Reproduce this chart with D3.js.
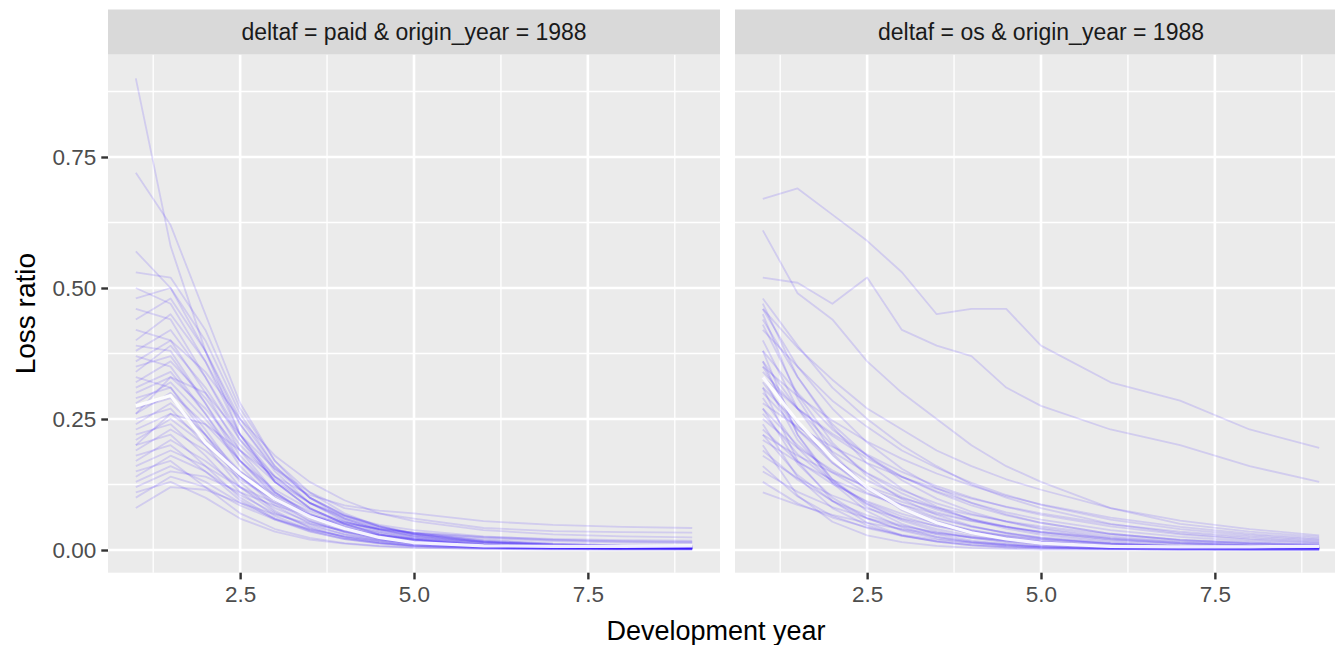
<!DOCTYPE html>
<html>
<head>
<meta charset="utf-8">
<script src="https://cdn.jsdelivr.net/npm/d3@7"></script>
<style>
  body { margin: 0; background: #fff; }
  svg { display: block; }
</style>
</head>
<body>
<div id="chart"></div>
<script>
// development years at which every simulated path is recorded
const devYears = [1, 1.5, 2, 2.5, 3, 3.5, 4, 4.5, 5, 6, 7, 8, 9];

// paid loss ratio paths (one row per simulation)
const paidSims = [
  [0.90, 0.58, 0.38, 0.22, 0.13, 0.08, 0.05, 0.03, 0.02, 0.01, 0.006, 0.004, 0.003],
  [0.72, 0.62, 0.45, 0.28, 0.17, 0.10, 0.06, 0.04, 0.025, 0.012, 0.007, 0.005, 0.004],
  [0.57, 0.50, 0.38, 0.24, 0.15, 0.09, 0.055, 0.035, 0.022, 0.010, 0.006, 0.004, 0.004],
  [0.53, 0.52, 0.42, 0.27, 0.17, 0.11, 0.07, 0.045, 0.03, 0.015, 0.009, 0.006, 0.005],
  [0.50, 0.47, 0.36, 0.22, 0.13, 0.08, 0.05, 0.03, 0.02, 0.009, 0.005, 0.004, 0.003],
  [0.48, 0.50, 0.40, 0.26, 0.16, 0.10, 0.065, 0.043, 0.03, 0.016, 0.010, 0.007, 0.006],
  [0.46, 0.44, 0.33, 0.21, 0.13, 0.08, 0.05, 0.032, 0.021, 0.010, 0.006, 0.004, 0.004],
  [0.44, 0.48, 0.38, 0.25, 0.16, 0.10, 0.066, 0.045, 0.031, 0.017, 0.011, 0.008, 0.007],
  [0.42, 0.40, 0.30, 0.19, 0.11, 0.065, 0.04, 0.025, 0.016, 0.008, 0.005, 0.004, 0.003],
  [0.40, 0.45, 0.36, 0.24, 0.155, 0.10, 0.067, 0.046, 0.032, 0.018, 0.012, 0.009, 0.008],
  [0.39, 0.38, 0.28, 0.17, 0.10, 0.06, 0.036, 0.022, 0.014, 0.007, 0.004, 0.003, 0.003],
  [0.38, 0.42, 0.33, 0.22, 0.14, 0.09, 0.058, 0.038, 0.026, 0.013, 0.008, 0.006, 0.005],
  [0.37, 0.35, 0.26, 0.16, 0.095, 0.056, 0.034, 0.021, 0.013, 0.006, 0.004, 0.003, 0.003],
  [0.36, 0.40, 0.34, 0.25, 0.18, 0.13, 0.095, 0.07, 0.055, 0.038, 0.030, 0.026, 0.024],
  [0.35, 0.37, 0.28, 0.18, 0.11, 0.068, 0.042, 0.027, 0.018, 0.009, 0.006, 0.004, 0.004],
  [0.34, 0.39, 0.31, 0.21, 0.14, 0.09, 0.06, 0.04, 0.028, 0.015, 0.009, 0.007, 0.006],
  [0.33, 0.31, 0.22, 0.13, 0.075, 0.043, 0.025, 0.015, 0.009, 0.004, 0.003, 0.002, 0.002],
  [0.32, 0.36, 0.29, 0.20, 0.135, 0.09, 0.062, 0.044, 0.032, 0.019, 0.012, 0.009, 0.008],
  [0.31, 0.34, 0.26, 0.17, 0.105, 0.065, 0.04, 0.025, 0.016, 0.008, 0.005, 0.004, 0.003],
  [0.30, 0.33, 0.27, 0.19, 0.13, 0.09, 0.065, 0.048, 0.038, 0.026, 0.020, 0.017, 0.016],
  [0.29, 0.31, 0.23, 0.14, 0.085, 0.05, 0.03, 0.018, 0.011, 0.005, 0.003, 0.002, 0.002],
  [0.28, 0.32, 0.25, 0.17, 0.11, 0.07, 0.045, 0.029, 0.019, 0.009, 0.005, 0.004, 0.004],
  [0.27, 0.29, 0.22, 0.14, 0.09, 0.055, 0.034, 0.021, 0.013, 0.006, 0.004, 0.003, 0.003],
  [0.26, 0.30, 0.24, 0.17, 0.115, 0.078, 0.054, 0.038, 0.028, 0.016, 0.010, 0.008, 0.007],
  [0.26, 0.33, 0.30, 0.22, 0.155, 0.11, 0.08, 0.07, 0.06, 0.042, 0.036, 0.034, 0.033],
  [0.25, 0.27, 0.20, 0.12, 0.072, 0.042, 0.024, 0.014, 0.008, 0.004, 0.002, 0.002, 0.002],
  [0.24, 0.28, 0.22, 0.15, 0.10, 0.066, 0.044, 0.03, 0.021, 0.011, 0.007, 0.005, 0.004],
  [0.23, 0.26, 0.21, 0.15, 0.105, 0.074, 0.053, 0.04, 0.031, 0.022, 0.017, 0.014, 0.013],
  [0.22, 0.24, 0.18, 0.11, 0.065, 0.038, 0.022, 0.013, 0.008, 0.004, 0.002, 0.002, 0.002],
  [0.21, 0.25, 0.20, 0.14, 0.095, 0.063, 0.042, 0.028, 0.019, 0.009, 0.005, 0.004, 0.004],
  [0.20, 0.22, 0.16, 0.10, 0.06, 0.036, 0.021, 0.012, 0.007, 0.003, 0.002, 0.002, 0.002],
  [0.20, 0.26, 0.24, 0.19, 0.14, 0.105, 0.085, 0.075, 0.07, 0.055, 0.048, 0.044, 0.042],
  [0.19, 0.23, 0.19, 0.135, 0.095, 0.066, 0.047, 0.034, 0.025, 0.015, 0.010, 0.008, 0.007],
  [0.18, 0.20, 0.15, 0.095, 0.058, 0.035, 0.021, 0.013, 0.008, 0.004, 0.003, 0.002, 0.002],
  [0.17, 0.21, 0.17, 0.12, 0.08, 0.053, 0.035, 0.024, 0.016, 0.008, 0.005, 0.004, 0.003],
  [0.16, 0.19, 0.16, 0.12, 0.09, 0.068, 0.052, 0.041, 0.033, 0.024, 0.019, 0.016, 0.015],
  [0.15, 0.17, 0.12, 0.07, 0.04, 0.023, 0.013, 0.008, 0.005, 0.002, 0.002, 0.001, 0.001],
  [0.14, 0.18, 0.15, 0.105, 0.07, 0.046, 0.03, 0.02, 0.013, 0.006, 0.004, 0.003, 0.003],
  [0.13, 0.16, 0.13, 0.09, 0.06, 0.04, 0.026, 0.017, 0.011, 0.005, 0.003, 0.002, 0.002],
  [0.12, 0.15, 0.14, 0.11, 0.085, 0.065, 0.05, 0.04, 0.033, 0.025, 0.021, 0.019, 0.018],
  [0.11, 0.13, 0.10, 0.06, 0.035, 0.02, 0.012, 0.007, 0.004, 0.002, 0.001, 0.001, 0.001],
  [0.10, 0.14, 0.12, 0.085, 0.058, 0.039, 0.026, 0.018, 0.012, 0.006, 0.004, 0.003, 0.003],
  [0.08, 0.12, 0.115, 0.09, 0.068, 0.05, 0.037, 0.028, 0.022, 0.014, 0.010, 0.008, 0.007]
];
const paidMean = [0.275, 0.295, 0.205, 0.145, 0.097, 0.064, 0.041, 0.024, 0.014, 0.008, 0.007, 0.007, 0.008];

// outstanding loss ratio paths
const osSims = [
  [0.67, 0.69, 0.64, 0.59, 0.53, 0.45, 0.46, 0.46, 0.39, 0.32, 0.285, 0.23, 0.195],
  [0.52, 0.51, 0.47, 0.52, 0.42, 0.39, 0.37, 0.31, 0.275, 0.23, 0.20, 0.16, 0.13],
  [0.61, 0.49, 0.44, 0.36, 0.30, 0.25, 0.20, 0.16, 0.13, 0.08, 0.05, 0.035, 0.025],
  [0.48, 0.39, 0.31, 0.25, 0.20, 0.16, 0.125, 0.10, 0.08, 0.05, 0.032, 0.022, 0.016],
  [0.47, 0.33, 0.235, 0.165, 0.117, 0.083, 0.058, 0.041, 0.029, 0.015, 0.008, 0.006, 0.005],
  [0.46, 0.35, 0.27, 0.205, 0.155, 0.118, 0.09, 0.068, 0.052, 0.031, 0.019, 0.013, 0.010],
  [0.46, 0.386, 0.325, 0.27, 0.23, 0.19, 0.16, 0.135, 0.115, 0.08, 0.056, 0.04, 0.028],
  [0.45, 0.29, 0.185, 0.12, 0.076, 0.049, 0.031, 0.02, 0.013, 0.006, 0.004, 0.003, 0.003],
  [0.44, 0.33, 0.24, 0.18, 0.133, 0.098, 0.073, 0.054, 0.04, 0.022, 0.013, 0.009, 0.007],
  [0.43, 0.297, 0.205, 0.141, 0.097, 0.067, 0.046, 0.032, 0.022, 0.011, 0.006, 0.005, 0.004],
  [0.42, 0.35, 0.285, 0.235, 0.19, 0.157, 0.128, 0.105, 0.086, 0.058, 0.04, 0.028, 0.020],
  [0.40, 0.27, 0.18, 0.12, 0.081, 0.054, 0.036, 0.024, 0.016, 0.008, 0.005, 0.004, 0.004],
  [0.38, 0.30, 0.23, 0.18, 0.14, 0.11, 0.085, 0.066, 0.052, 0.031, 0.019, 0.013, 0.010],
  [0.38, 0.22, 0.128, 0.074, 0.043, 0.025, 0.015, 0.009, 0.005, 0.002, 0.002, 0.001, 0.001],
  [0.36, 0.22, 0.134, 0.082, 0.05, 0.03, 0.018, 0.011, 0.007, 0.003, 0.002, 0.002, 0.002],
  [0.36, 0.27, 0.20, 0.146, 0.108, 0.08, 0.059, 0.044, 0.032, 0.018, 0.011, 0.008, 0.006],
  [0.35, 0.24, 0.167, 0.115, 0.08, 0.055, 0.038, 0.026, 0.018, 0.009, 0.005, 0.004, 0.004],
  [0.35, 0.294, 0.247, 0.207, 0.174, 0.146, 0.123, 0.103, 0.087, 0.062, 0.044, 0.031, 0.022],
  [0.34, 0.27, 0.218, 0.175, 0.14, 0.112, 0.09, 0.072, 0.058, 0.038, 0.025, 0.017, 0.013],
  [0.33, 0.21, 0.135, 0.087, 0.056, 0.036, 0.023, 0.015, 0.010, 0.005, 0.003, 0.002, 0.002],
  [0.33, 0.27, 0.222, 0.182, 0.149, 0.122, 0.10, 0.082, 0.067, 0.045, 0.03, 0.02, 0.014],
  [0.32, 0.23, 0.166, 0.12, 0.086, 0.062, 0.045, 0.032, 0.023, 0.012, 0.007, 0.005, 0.004],
  [0.31, 0.17, 0.094, 0.052, 0.028, 0.016, 0.009, 0.005, 0.003, 0.002, 0.001, 0.001, 0.001],
  [0.31, 0.242, 0.188, 0.147, 0.114, 0.089, 0.069, 0.054, 0.042, 0.026, 0.016, 0.011, 0.009],
  [0.30, 0.23, 0.175, 0.133, 0.101, 0.077, 0.059, 0.045, 0.034, 0.020, 0.012, 0.008, 0.007],
  [0.29, 0.195, 0.13, 0.088, 0.059, 0.04, 0.027, 0.018, 0.012, 0.006, 0.004, 0.003, 0.003],
  [0.28, 0.235, 0.197, 0.166, 0.139, 0.117, 0.098, 0.083, 0.07, 0.049, 0.035, 0.025, 0.018],
  [0.27, 0.165, 0.10, 0.061, 0.037, 0.022, 0.014, 0.008, 0.005, 0.002, 0.002, 0.001, 0.001],
  [0.27, 0.20, 0.148, 0.109, 0.081, 0.06, 0.044, 0.033, 0.024, 0.013, 0.008, 0.006, 0.005],
  [0.26, 0.183, 0.13, 0.091, 0.064, 0.045, 0.032, 0.023, 0.016, 0.008, 0.005, 0.004, 0.004],
  [0.25, 0.195, 0.152, 0.118, 0.092, 0.072, 0.056, 0.044, 0.034, 0.021, 0.013, 0.009, 0.007],
  [0.24, 0.139, 0.08, 0.047, 0.027, 0.016, 0.009, 0.005, 0.003, 0.002, 0.001, 0.001, 0.001],
  [0.23, 0.17, 0.126, 0.093, 0.069, 0.051, 0.038, 0.028, 0.021, 0.012, 0.007, 0.005, 0.005],
  [0.22, 0.143, 0.093, 0.06, 0.039, 0.025, 0.016, 0.011, 0.007, 0.003, 0.002, 0.002, 0.002],
  [0.22, 0.18, 0.148, 0.121, 0.099, 0.081, 0.067, 0.055, 0.045, 0.03, 0.02, 0.014, 0.010],
  [0.21, 0.168, 0.134, 0.107, 0.086, 0.069, 0.055, 0.044, 0.035, 0.023, 0.015, 0.011, 0.009],
  [0.20, 0.104, 0.054, 0.028, 0.015, 0.008, 0.004, 0.002, 0.001, 0.001, 0.001, 0.001, 0.001],
  [0.19, 0.134, 0.094, 0.066, 0.047, 0.033, 0.023, 0.016, 0.011, 0.006, 0.004, 0.003, 0.003],
  [0.18, 0.137, 0.104, 0.079, 0.06, 0.046, 0.035, 0.027, 0.020, 0.012, 0.007, 0.005, 0.004],
  [0.16, 0.102, 0.065, 0.042, 0.027, 0.017, 0.011, 0.007, 0.005, 0.002, 0.001, 0.001, 0.001],
  [0.15, 0.111, 0.082, 0.061, 0.045, 0.033, 0.025, 0.018, 0.014, 0.008, 0.005, 0.004, 0.003],
  [0.13, 0.089, 0.062, 0.043, 0.029, 0.02, 0.014, 0.010, 0.007, 0.003, 0.002, 0.002, 0.002],
  [0.11, 0.086, 0.067, 0.052, 0.04, 0.031, 0.024, 0.019, 0.015, 0.009, 0.006, 0.004, 0.004]
];
const osMean = [0.33, 0.245, 0.175, 0.12, 0.08, 0.052, 0.033, 0.021, 0.013, 0.007, 0.006, 0.006, 0.007];

const panelTitles = ["deltaf = paid & origin_year = 1988", "deltaf = os & origin_year = 1988"];
const xTicks = [2.5, 5, 7.5];
const xMinor = [1.25, 3.75, 6.25, 8.75];
const yTicks = [0, 0.25, 0.5, 0.75];
const yMinor = [0.125, 0.375, 0.625, 0.875];

const width = 1335, height = 645;
const panelW = 612, stripTop = 9.5, panelTop = 54.5, panelBottom = 572.7;
const panelLefts = [108, 735];
const fontFamily = '"Liberation Sans", Arial, Helvetica, sans-serif';

var svg = d3.select('#chart')
    .append('svg')
    .attr('width', width)
    .attr('height', height)
    .style('font-family', fontFamily);

var x = d3.scaleLinear().domain([0.6, 9.4]).range([0, panelW]);
var y = d3.scaleLinear().domain([-0.0433, 0.9456]).range([panelBottom, panelTop]);

var line = d3.line()
    .x(function (d, i) { return x(devYears[i]); })
    .y(function (d) { return y(d); });

const panels = [
    { sims: paidSims, mean: paidMean },
    { sims: osSims, mean: osMean }
];

panels.forEach(function (p, k) {
    var g = svg.append('g').attr('transform', `translate(${panelLefts[k]},0)`);

    g.append('clipPath').attr('id', 'clip' + k)
        .append('rect')
        .attr('x', 0).attr('y', panelTop)
        .attr('width', panelW).attr('height', panelBottom - panelTop);

    g.append('rect')
        .attr('x', 0).attr('y', panelTop)
        .attr('width', panelW).attr('height', panelBottom - panelTop)
        .attr('fill', '#EBEBEB');

    // minor grid
    g.selectAll('.xminor').data(xMinor).enter().append('line')
        .attr('x1', d => x(d)).attr('x2', d => x(d))
        .attr('y1', panelTop).attr('y2', panelBottom)
        .attr('stroke', '#fff').attr('stroke-width', 1.3);
    g.selectAll('.yminor').data(yMinor).enter().append('line')
        .attr('x1', 0).attr('x2', panelW)
        .attr('y1', d => y(d)).attr('y2', d => y(d))
        .attr('stroke', '#fff').attr('stroke-width', 1.3);

    // major grid
    g.selectAll('.xmajor').data(xTicks).enter().append('line')
        .attr('x1', d => x(d)).attr('x2', d => x(d))
        .attr('y1', panelTop).attr('y2', panelBottom)
        .attr('stroke', '#fff').attr('stroke-width', 2.6);
    g.selectAll('.ymajor').data(yTicks).enter().append('line')
        .attr('x1', 0).attr('x2', panelW)
        .attr('y1', d => y(d)).attr('y2', d => y(d))
        .attr('stroke', '#fff').attr('stroke-width', 2.6);

    var lines = g.append('g').attr('clip-path', `url(#clip${k})`);

    lines.selectAll('.sim')
        .data(p.sims)
        .enter().append('path')
        .attr('class', 'sim')
        .attr('d', line)
        .attr('fill', 'none')
        .attr('stroke', '#3d1aff')
        .attr('stroke-opacity', 0.15)
        .attr('stroke-width', 1.8)
        .attr('stroke-linejoin', 'round');

    lines.append('path')
        .datum(p.mean)
        .attr('d', line)
        .attr('fill', 'none')
        .attr('stroke', '#fff')
        .attr('stroke-opacity', 0.9)
        .attr('stroke-width', 3.2)
        .attr('stroke-linejoin', 'round');

    // strip
    g.append('rect')
        .attr('x', 0).attr('y', stripTop)
        .attr('width', panelW).attr('height', panelTop - stripTop)
        .attr('fill', '#D9D9D9');
    g.append('text')
        .attr('x', panelW / 2)
        .attr('y', (stripTop + panelTop) / 2)
        .attr('dy', '0.35em')
        .attr('text-anchor', 'middle')
        .attr('fill', '#1A1A1A')
        .style('font-size', '23px')
        .text(panelTitles[k]);

    // x axis
    var xa = g.append('g')
        .attr('transform', `translate(0,${panelBottom})`)
        .call(d3.axisBottom(x).tickValues(xTicks).tickFormat(d3.format('.1f'))
            .tickSize(6.7).tickPadding(7));
    xa.select('.domain').remove();
    xa.selectAll('.tick line').attr('stroke', '#333333').attr('stroke-width', 2.4);
    xa.selectAll('.tick text').attr('fill', '#4D4D4D')
        .style('font-size', '22.5px').style('font-family', fontFamily);

    if (k == 0) {
        var ya = g.append('g')
            .call(d3.axisLeft(y).tickValues(yTicks).tickFormat(d3.format('.2f'))
                .tickSize(6.7).tickPadding(5));
        ya.select('.domain').remove();
        ya.selectAll('.tick line').attr('stroke', '#333333').attr('stroke-width', 2.4);
        ya.selectAll('.tick text').attr('fill', '#4D4D4D')
            .style('font-size', '22.5px').style('font-family', fontFamily);
    }
});

// axis titles
svg.append('text')
    .attr('transform', `translate(35,${(panelTop + panelBottom) / 2}) rotate(-90)`)
    .attr('text-anchor', 'middle')
    .attr('fill', '#000')
    .style('font-size', '28px')
    .text('Loss ratio');

svg.append('text')
    .attr('x', 716)
    .attr('y', 640)
    .attr('text-anchor', 'middle')
    .attr('fill', '#000')
    .style('font-size', '27px')
    .text('Development year');
</script>
</body>
</html>
